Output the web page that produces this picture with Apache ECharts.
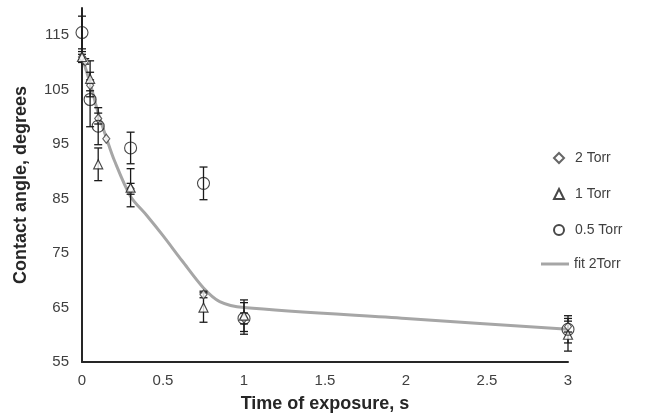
<!DOCTYPE html>
<html>
<head>
<meta charset="utf-8">
<script src="https://cdn.jsdelivr.net/npm/echarts@6/dist/echarts.min.js"></script>
<style>html,body{margin:0;padding:0;background:#fff}#container{width:648px;height:414px}</style>
</head>
<body>
<div id="container"></div>
<script>
var dom = document.getElementById("container");
var myChart = echarts.init(dom);

// 2 Torr (diamonds)
var x2 = [0, 0.02, 0.05, 0.1, 0.15, 0.3, 0.75, 1, 3];
var y2 = [111, 110.2, 105.8, 99.7, 96, 86.8, 67.4, 63, 61.5];
var e2 = [0.5, 0.5, 1, 1, 0, 1, 0.6, 1, 1];
// 1 Torr (triangles)
var x1 = [0, 0.05, 0.1, 0.3, 0.75, 1, 3];
var y1 = [111, 107, 91.3, 87, 65, 63.5, 60];
var e1 = [1, 3.3, 3, 3.5, 2.7, 2.9, 3];
// 0.5 Torr (circles)
var x05 = [0, 0.05, 0.1, 0.3, 0.75, 1, 3];
var y05 = [115.5, 103.2, 98.3, 94.3, 87.8, 63, 61];
var e05 = [3, 5, 3.4, 2.9, 3, 2.9, 2.5];
// fit 2Torr
var xFit = [0, 0.05, 0.1, 0.15, 0.2, 0.3, 0.4, 0.5, 0.62, 0.75, 0.85, 1, 2, 3];
var yFit = [111, 106.2, 100.7, 96.2, 92, 85.4, 81.9, 78.2, 73.5, 68.6, 66.1, 65, 63, 61];

function pairs(xs, ys) {
  return xs.map(function (x, i) { return [x, ys[i]]; });
}
function errs(xs, ys, es) {
  var out = [];
  xs.forEach(function (x, i) {
    if (es[i] > 0) out.push([x, ys[i] - es[i], ys[i] + es[i]]);
  });
  return out;
}
var errData = errs(x2, y2, e2).concat(errs(x1, y1, e1)).concat(errs(x05, y05, e05));

function renderErr(params, api) {
  var x = api.value(0);
  var top = api.coord([x, api.value(2)]);
  var bot = api.coord([x, api.value(1)]);
  var w = 4;
  var st = { stroke: '#1a1a1a', lineWidth: 1.3 };
  return {
    type: 'group',
    children: [
      { type: 'line', shape: { x1: top[0], y1: top[1], x2: bot[0], y2: bot[1] }, style: st },
      { type: 'line', shape: { x1: top[0] - w, y1: top[1], x2: top[0] + w, y2: top[1] }, style: st },
      { type: 'line', shape: { x1: bot[0] - w, y1: bot[1], x2: bot[0] + w, y2: bot[1] }, style: st }
    ]
  };
}

var font = 'Liberation Sans';
var legendText = { fontFamily: font, fontSize: 14, color: '#404040' };
var option = {
  animation: false,
  textStyle: { fontFamily: font },
  grid: { left: 82, right: 80, top: 8, bottom: 52, containLabel: false, outerBoundsMode: 'none' },
  legend: [
    {
      orient: 'vertical',
      left: 548,
      top: 146,
      itemWidth: 10,
      itemHeight: 10,
      itemGap: 22,
      textStyle: Object.assign({ padding: [0, 0, 0, 6] }, legendText),
      data: ['2 Torr', '1 Torr', '0.5 Torr']
    },
    {
      orient: 'vertical',
      left: 536,
      top: 252,
      itemWidth: 28,
      itemHeight: 3,
      textStyle: legendText,
      data: [{ name: 'fit 2Torr', icon: 'rect' }]
    }
  ],
  xAxis: {
    type: 'value',
    min: 0,
    max: 3,
    interval: 0.5,
    name: 'Time of exposure, s',
    nameLocation: 'middle',
    nameGap: 33,
    nameTextStyle: { fontFamily: font, fontSize: 18, fontWeight: 'bold', color: '#262626' },
    axisLine: { show: true, lineStyle: { color: '#262626', width: 2 } },
    axisTick: { show: false },
    splitLine: { show: false },
    axisLabel: { fontFamily: font, fontSize: 15, color: '#404040', margin: 11 }
  },
  yAxis: {
    type: 'value',
    min: 55,
    max: 120,
    interval: 10,
    name: 'Contact angle, degrees',
    nameLocation: 'middle',
    nameGap: 52,
    nameTextStyle: { fontFamily: font, fontSize: 18, fontWeight: 'bold', color: '#262626' },
    axisLine: { show: true, lineStyle: { color: '#262626', width: 2 } },
    axisTick: { show: false },
    splitLine: { show: false },
    axisLabel: { fontFamily: font, fontSize: 15, color: '#404040', margin: 13, showMaxLabel: false }
  },
  series: [
    {
      name: 'fit 2Torr',
      type: 'line',
      data: pairs(xFit, yFit),
      smooth: 0.3,
      symbol: 'none',
      z: 1,
      lineStyle: { color: '#a6a6a6', width: 3 },
      itemStyle: { color: '#a6a6a6' }
    },
    {
      name: 'errors',
      type: 'custom',
      renderItem: renderErr,
      data: errData,
      encode: { x: 0, y: [1, 2] },
      z: 2
    },
    {
      name: '2 Torr',
      type: 'scatter',
      data: pairs(x2, y2),
      symbol: 'diamond',
      symbolSize: [7, 9],
      z: 3,
      itemStyle: { color: '#ffffff', borderColor: '#404040', borderWidth: 1.2 }
    },
    {
      name: '1 Torr',
      type: 'scatter',
      data: pairs(x1, y1),
      symbol: 'triangle',
      symbolSize: [9, 9],
      z: 3,
      itemStyle: { color: '#ffffff', borderColor: '#1a1a1a', borderWidth: 1.2 }
    },
    {
      name: '0.5 Torr',
      type: 'scatter',
      data: pairs(x05, y05),
      symbol: 'circle',
      symbolSize: 12,
      z: 3,
      itemStyle: { color: 'rgba(255,255,255,0)', borderColor: '#1a1a1a', borderWidth: 1.1 }
    }
  ]
};

if (option && typeof option === 'object') {
  myChart.setOption(option);
}
</script>
</body>
</html>
